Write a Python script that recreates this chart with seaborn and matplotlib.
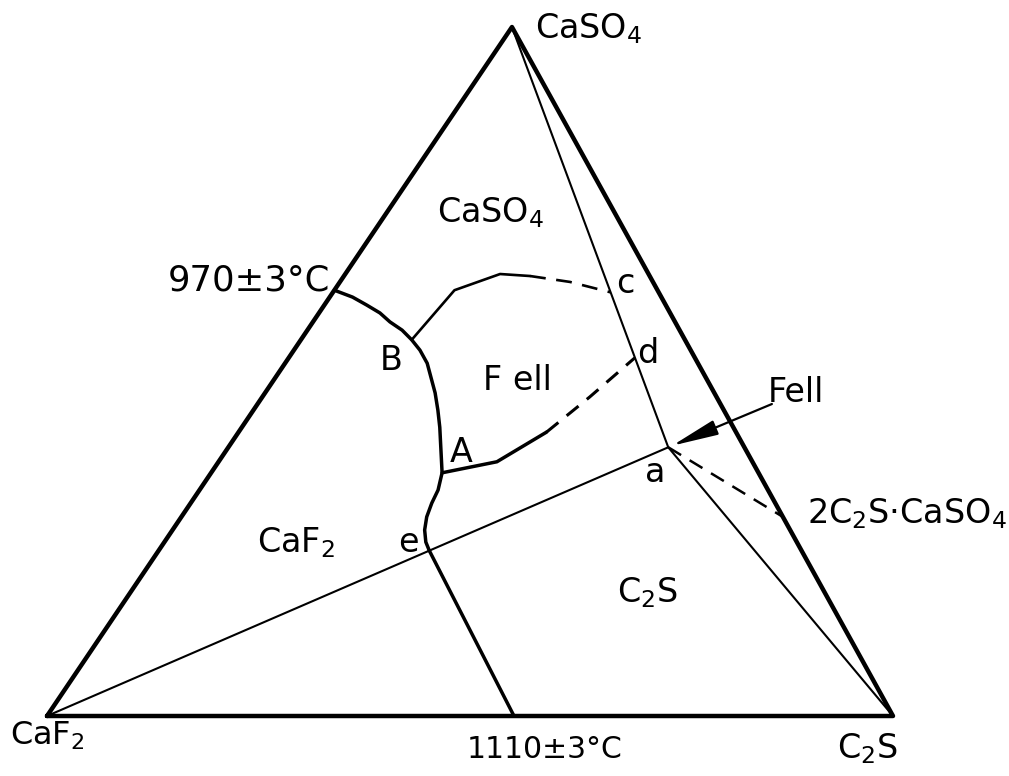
import numpy as np
import matplotlib
matplotlib.use("Agg")
import matplotlib.pyplot as plt
import seaborn as sns

# --- data: compositions in wt% (CaSO4, C2S); CaF2 is the rest ---
# corner shape of the drawn triangle (apex is shifted, plot is not equilateral)
APEX_X = 0.5496
APEX_Y = 0.8144

# CaF2 primary field boundary: 970 point -> B -> A -> e
bnd_caso4 = [61.8, 60.8, 59.65, 58.5, 57.2, 56.0, 54.6, 53.1, 51.2, 46.9, 44.4,
             41.9, 35.3, 32.8, 30.9, 28.9, 27.0, 25.25, 24.0]
bnd_c2s = [0.0, 2.7, 5.0, 7.2, 9.1, 11.2, 13.1, 14.9, 16.8, 20.1, 21.8,
           23.4, 27.3, 28.2, 28.5, 29.0, 29.8, 30.9, 32.0]

# e -> 1110 point on the base
e_caso4 = [24.0, 0.0]
e_c2s = [32.0, 55.2]

# B -> c curve (solid part, dashed part)
bc_caso4 = [54.6, 61.8, 64.15, 63.86]
bc_c2s = [13.1, 14.2, 18.3, 22.0]
bc_dash_caso4 = [63.86, 63.0, 61.5]
bc_dash_c2s = [22.0, 27.2, 32.8]

# A -> d curve (solid part, dashed part)
ad_caso4 = [35.3, 36.9, 41.2]
ad_c2s = [27.3, 32.9, 36.4]
ad_dash_caso4 = [41.2, 46.3, 51.96]
ad_dash_c2s = [36.4, 38.7, 40.9]

# compound points
fell_pt = (39.0, 52.0)        # Fell (fluorellestadite), point a
c2s2_caso4_pt = (28.9, 71.1)  # 2C2S.CaSO4 on the CaSO4-C2S side
arrow_tail = (45.28, 60.8)


def tern(caso4, c2s):
    c = np.asarray(caso4, dtype=float) / 100.0
    b = np.asarray(c2s, dtype=float) / 100.0
    return b + c * APEX_X, c * APEX_Y


sns.set_theme(style="white")
plt.rcParams['font.family'] = ['DejaVu Sans']
plt.rcParams['mathtext.default'] = 'regular'

fig = plt.figure(figsize=(10.09, 7.76), dpi=100)
ax = fig.add_axes([0, 0, 1, 1])


def line(caso4, c2s, lw, ls='-'):
    x, y = tern(caso4, c2s)
    sns.lineplot(x=x, y=y, sort=False, estimator=None, ax=ax,
                 color='black', linewidth=lw, linestyle=ls,
                 solid_capstyle='round', solid_joinstyle='round')


# outer triangle
line([0, 0, 100, 0], [0, 100, 0, 0], 3.2)

# joins through Fell
line([100, fell_pt[0]], [0, fell_pt[1]], 1.5)
line([fell_pt[0], 0], [fell_pt[1], 100], 1.5)
line([0, fell_pt[0]], [0, fell_pt[1]], 1.5)
line([fell_pt[0], c2s2_caso4_pt[0]], [fell_pt[1], c2s2_caso4_pt[1]], 1.8, (0, (6, 4)))

# field boundaries
line(bnd_caso4, bnd_c2s, 2.5)
line(e_caso4, e_c2s, 2.5)
line(bc_caso4, bc_c2s, 1.9)
line(bc_dash_caso4, bc_dash_c2s, 1.9, (0, (6, 4)))
line(ad_caso4, ad_c2s, 2.5)
line(ad_dash_caso4, ad_dash_c2s, 2.2, (0, (5, 3.5)))

# arrow pointing to Fell
ax.annotate("", xy=tern(*fell_pt), xytext=tern(*arrow_tail),
            arrowprops=dict(arrowstyle='-|>,head_length=1.1,head_width=0.18',
                            color='black', lw=1.6, mutation_scale=26,
                            shrinkA=0, shrinkB=3))

# labels (plot frame: CaF2 corner at 0,0, base length 1)
fs = 24
labels = [
    (0.577, 0.8014, r"CaSO$_4$", 'left', fs),
    (0.461, 0.584, r"CaSO$_4$", 'left', fs),
    (0.3345, 0.5035, "970±3°C", 'right', 25.5),
    (0.4066, 0.409, "B", 'center', fs),
    (0.5154, 0.3853, "F ell", 'left', fs),
    (0.4894, 0.3002, "A", 'center', fs),
    (0.6832, 0.500, "c", 'center', fs),
    (0.7104, 0.4173, "d", 'center', fs),
    (0.7187, 0.277, "a", 'center', fs),
    (0.8522, 0.3712, "Fell", 'left', fs),
    (0.8983, 0.2281, r"2C$_2$S·CaSO$_4$", 'left', fs),
    (0.4267, 0.1939, "e", 'center', fs),
    (0.2482, 0.1939, r"CaF$_2$", 'left', fs),
    (0.6738, 0.1348, r"C$_2$S", 'left', fs),
    (-0.0437, -0.0343, r"CaF$_2$", 'left', 23),
    (0.4965, -0.0496, "1110±3°C", 'left', 21.5),
    (0.9338, -0.0496, r"C$_2$S", 'left', fs),
]
for x, y, s, ha, size in labels:
    ax.text(x, y, s, ha=ha, va='baseline', fontsize=size, color='black')

ax.set_xlim(-47 / 846, 962 / 846)
ax.set_ylim(-60 / 846, 716 / 846)
ax.axis('off')

fig.savefig("out.png", dpi=100, facecolor='white')
